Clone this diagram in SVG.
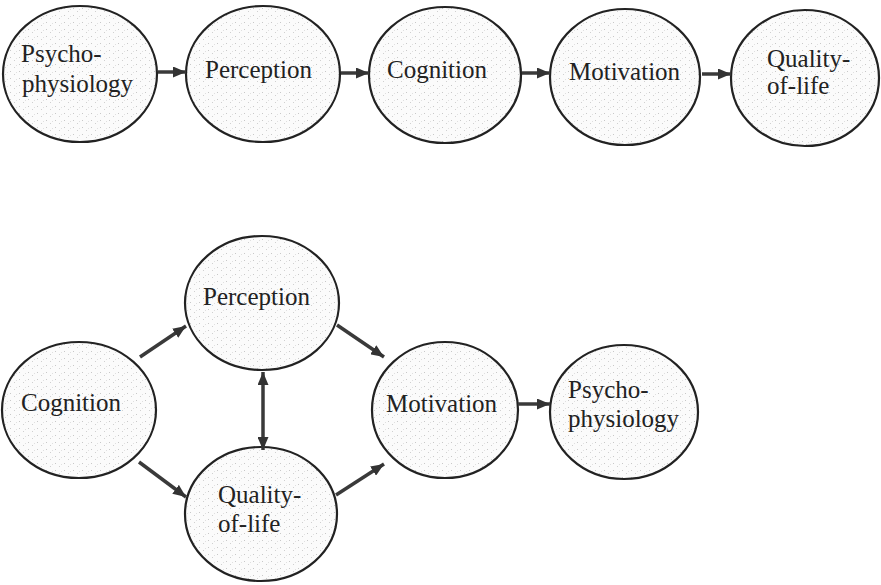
<svg xmlns="http://www.w3.org/2000/svg" width="881" height="585" viewBox="0 0 881 585">
  <defs>
    <!-- sparse stipple used as the bubble fill -->
    <pattern id="stipple" width="9" height="7" patternUnits="userSpaceOnUse">
      <rect width="9" height="7" fill="#fbfbfb"/>
      <rect x="1" y="1" width="1" height="1" fill="#c8c8c8"/>
      <rect x="5" y="4" width="1" height="1" fill="#d0d0d0"/>
      <rect x="7" y="2" width="1" height="1" fill="#e0e0e0"/>
    </pattern>
    <marker id="head" markerUnits="userSpaceOnUse" markerWidth="13" markerHeight="11" refX="13" refY="5.5" orient="auto-start-reverse">
      <path d="M0,0 L13,5.5 L0,11 Z" fill="#333"/>
    </marker>
  </defs>
  <style>
    .node ellipse { fill: url(#stipple); stroke: #222; stroke-width: 2.2; }
    .node text { font-size: 25px; fill: #222; }
    #connectors line { stroke: #3a3a3a; stroke-width: 3.5; marker-end: url(#head); }
    #connectors line.both { marker-start: url(#head); }
  </style>
  <rect width="881" height="585" fill="#fff"/>

  <g font-family="'Liberation Serif', 'Times New Roman', 'DejaVu Serif', serif">
  <!-- top chain -->
  <g id="top-psychophysiology" class="node">
    <ellipse cx="80" cy="74" rx="77" ry="68"/>
    <text x="21" y="62">Psycho-</text>
    <text x="22" y="92">physiology</text>
  </g>
  <g id="top-perception" class="node">
    <ellipse cx="263" cy="74" rx="77" ry="68"/>
    <text x="205" y="78">Perception</text>
  </g>
  <g id="top-cognition" class="node">
    <ellipse cx="445" cy="75" rx="76" ry="68"/>
    <text x="387" y="78">Cognition</text>
  </g>
  <g id="top-motivation" class="node">
    <ellipse cx="625" cy="77" rx="75" ry="68"/>
    <text x="569" y="80">Motivation</text>
  </g>
  <g id="top-quality" class="node">
    <ellipse cx="805" cy="78" rx="74" ry="68"/>
    <text x="767" y="67">Quality-</text>
    <text x="767" y="94">of-life</text>
  </g>

  <!-- lower network -->
  <g id="cognition" class="node">
    <ellipse cx="79" cy="410" rx="77" ry="68"/>
    <text x="21" y="411">Cognition</text>
  </g>
  <g id="perception" class="node">
    <ellipse cx="262" cy="303" rx="77" ry="67"/>
    <text x="203" y="305">Perception</text>
  </g>
  <g id="quality" class="node">
    <ellipse cx="261" cy="514" rx="76" ry="67"/>
    <text x="218" y="503">Quality-</text>
    <text x="218" y="532">of-life</text>
  </g>
  <g id="motivation" class="node">
    <ellipse cx="445" cy="410" rx="73" ry="68"/>
    <text x="386" y="412">Motivation</text>
  </g>
  <g id="psychophysiology" class="node">
    <ellipse cx="624" cy="412" rx="74" ry="67"/>
    <text x="568" y="398">Psycho-</text>
    <text x="568" y="427">physiology</text>
  </g>
  </g>

  <g id="connectors">
    <line x1="158" y1="72" x2="186" y2="72"/>
    <line x1="341" y1="73" x2="369" y2="73"/>
    <line x1="522" y1="73" x2="550" y2="73"/>
    <line x1="702" y1="74" x2="731" y2="74"/>

    <line x1="140" y1="357" x2="186" y2="326"/>
    <line x1="139" y1="462" x2="186" y2="497"/>
    <line x1="337" y1="325" x2="384" y2="357"/>
    <line x1="336" y1="495" x2="384" y2="464"/>
    <line class="both" x1="263" y1="372" x2="263" y2="450"/>
    <line x1="518" y1="404" x2="550" y2="404"/>
  </g>
</svg>
